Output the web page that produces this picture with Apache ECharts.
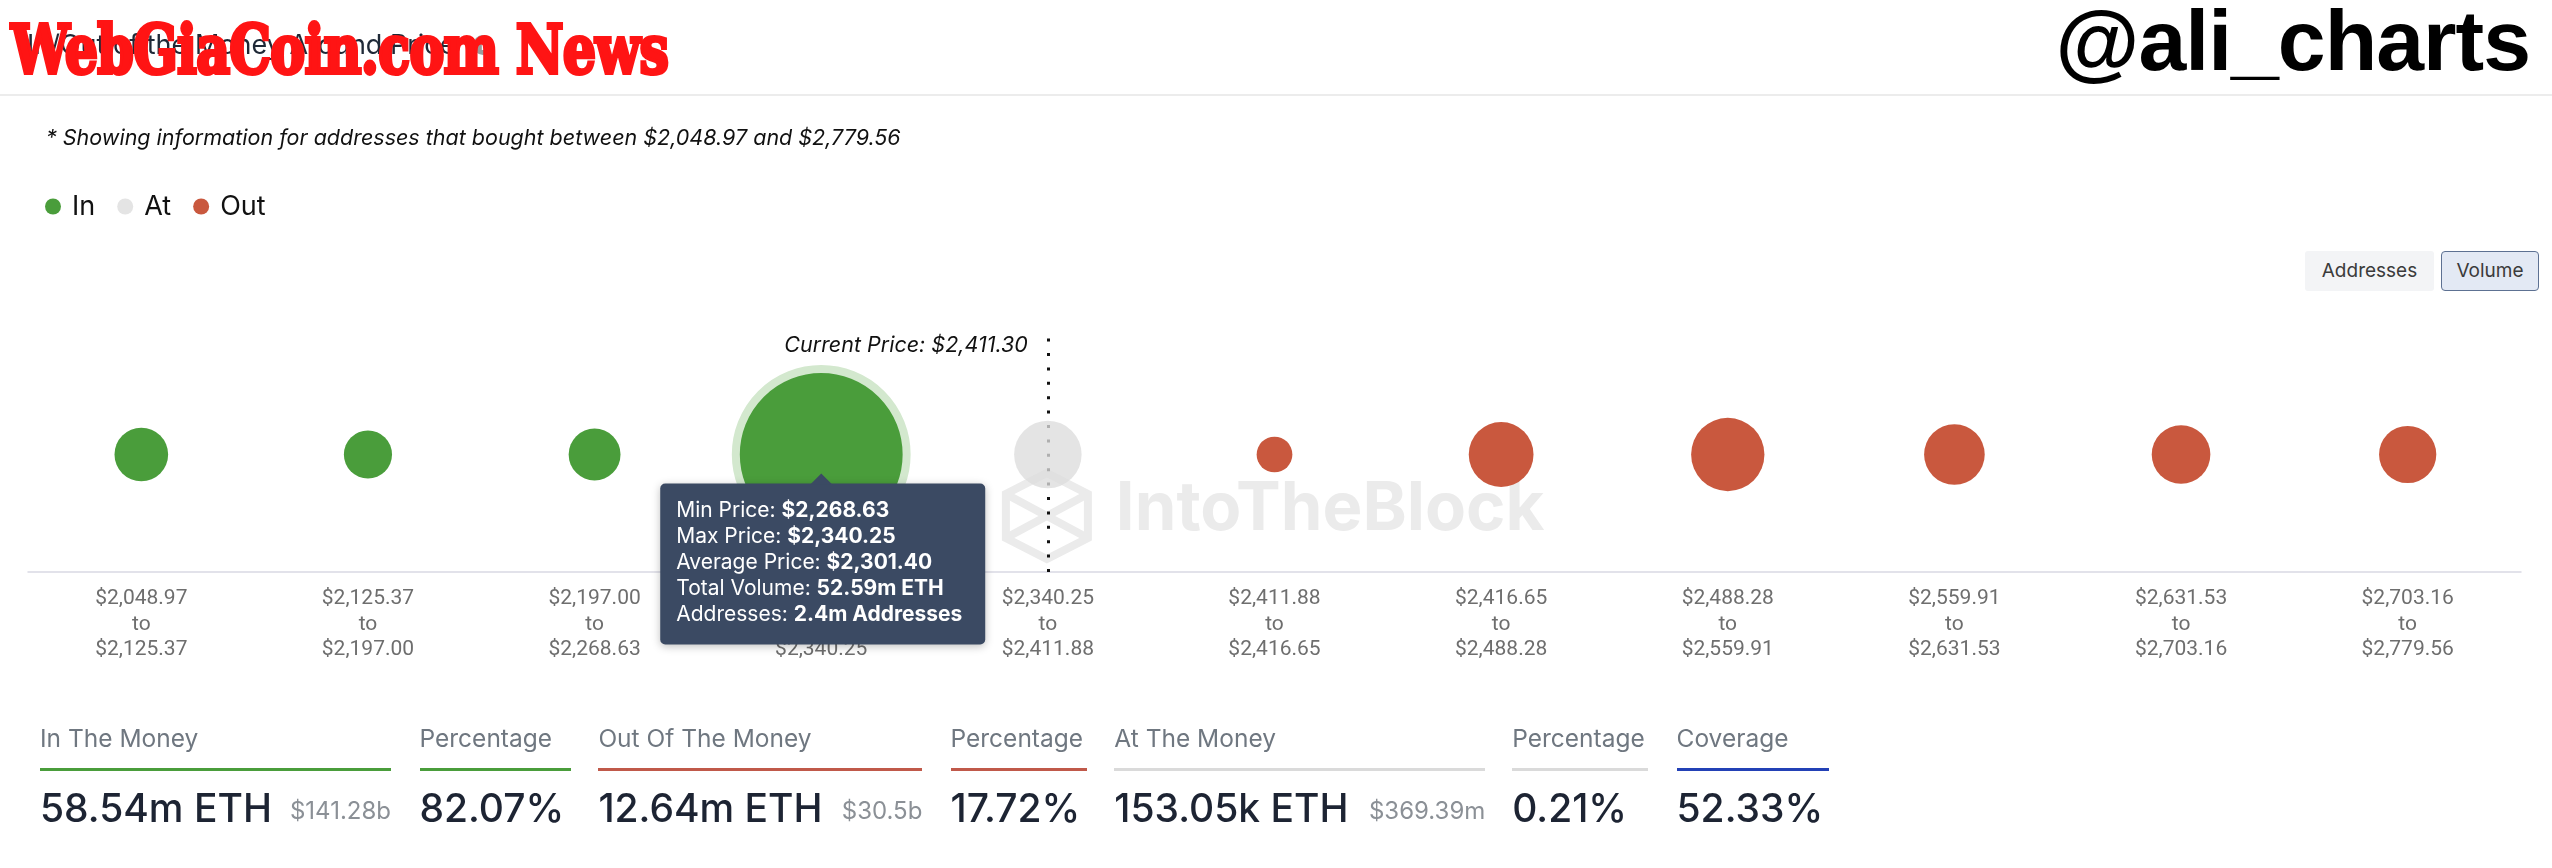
<!DOCTYPE html>
<html>
<head>
<meta charset="utf-8">
<script src="https://cdn.jsdelivr.net/npm/echarts@6/dist/echarts.min.js"></script>
<style>
  html, body { margin:0; padding:0; background:#fff; width:2552px; height:868px; overflow:hidden; font-family: Inter, 'Noto Sans', sans-serif; }
  #chart { position:absolute; left:0; top:0; width:2552px; height:868px; }
  .abs { position:absolute; white-space:nowrap; }
  #title { left:27px; top:29px; font-size:27px; line-height:32px; color:#1f2937; }
  #info { left:473px; top:35px; width:20px; height:20px; border-radius:50%; background:#9b9b9b; color:#fff; font-size:14px; font-weight:700; text-align:center; line-height:20px; }
  #brand { left:11px; top:15px; font-family:'DejaVu Serif', serif; font-weight:900; font-size:68px; line-height:68px; color:#ff1414; -webkit-text-stroke:4px #ff1414; transform:scaleX(0.77); transform-origin:0 0; letter-spacing:-1px; }
  #handle { right:22px; top:-3px; font-family:'Liberation Sans', Arial, sans-serif; font-weight:700; font-size:86px; line-height:86px; color:#000; letter-spacing:-1px; }
  #sep { left:0; top:94px; width:2552px; height:2px; background:#ececec; }
  #sub { left:46px; top:124px; font-size:21.5px; line-height:26px; font-style:italic; color:#111; }
  .btn { top:251px; height:40px; line-height:40px; font-size:19px; color:#3b3b3b; text-align:center; box-sizing:border-box; }
  #bAddr { left:2305px; width:129px; background:#f3f4f6; border-radius:3px; }
  #bVol { left:2441px; width:98px; background:#e3e9f4; border:1.5px solid #5d7192; border-radius:4px; line-height:37px; }
  .slab { top:721px; font-size:24.5px; line-height:34px; color:#6f7780; }
  .sline { top:768px; height:3px; }
  .sval { top:785px; font-size:39px; line-height:46px; color:#1d2433; font-weight:500; }
  .ssub { top:796px; font-size:24px; line-height:30px; color:#8b9096; text-align:right; }
</style>
</head>
<body>
<div id="chart"></div>
<div id="title" class="abs">In/Out of the Money Around Price</div>
<div id="info" class="abs">i</div>
<div id="brand" class="abs">WebGiaCoin.com News</div>
<div id="handle" class="abs">@ali_charts</div>
<div id="sep" class="abs"></div>
<div id="sub" class="abs">* Showing information for addresses that bought between $2,048.97 and $2,779.56</div>
<div id="bAddr" class="abs btn">Addresses</div>
<div id="bVol" class="abs btn">Volume</div>
<div id="stats"></div>
<script>
// ---- data ----
const rangeLow  = [2048.97, 2125.37, 2197.00, 2268.63, 2340.25, 2411.88, 2416.65, 2488.28, 2559.91, 2631.53, 2703.16];
const rangeHigh = [2125.37, 2197.00, 2268.63, 2340.25, 2411.88, 2416.65, 2488.28, 2559.91, 2631.53, 2703.16, 2779.56];
const inIndex   = [0, 1, 2, 3];
const inVolume  = [2.16, 1.84, 2.05, 52.59];          // m ETH
const atIndex   = [4];
const atVolume  = [0.153];                             // m ETH
const outIndex  = [5, 6, 7, 8, 9, 10];
const outVolume = [1.28, 2.99, 3.84, 2.65, 2.50, 2.40]; // m ETH
const currentPrice = 2411.30;
const focusIn = 3;               // highlighted bucket (index into inIndex)
const focusAvgPrice = 2301.40;
const focusAddresses = '2.4m';

const statLabels = ['In The Money', 'Percentage', 'Out Of The Money', 'Percentage', 'At The Money', 'Percentage', 'Coverage'];
const statValues = ['58.54m ETH', '82.07%', '12.64m ETH', '17.72%', '153.05k ETH', '0.21%', '52.33%'];
const statSubs   = ['$141.28b', '', '$30.5b', '', '$369.39m', '', ''];

// ---- styles ----
const GREEN = '#4a9d3b', RED = '#c9583e', GREY = '#dcdcdc';
const statLayout = [[40, 351, GREEN], [419.5, 151, GREEN], [598.4, 324, '#c0594a'], [950.5, 136, '#c0594a'],
                    [1114.3, 371, '#dadada'], [1512.2, 136, '#dadada'], [1676.5, 152, '#2341b6']];

const stats = document.getElementById('stats');
statLabels.forEach((lab, i) => {
  const [x, w, c] = statLayout[i];
  stats.insertAdjacentHTML('beforeend',
    `<div class="abs slab" style="left:${x}px">${lab}</div>` +
    `<div class="abs sline" style="left:${x}px;width:${w}px;background:${c}"></div>` +
    `<div class="abs sval" style="left:${x}px">${statValues[i]}</div>` +
    (statSubs[i] ? `<div class="abs ssub" style="left:${x}px;width:${w}px">${statSubs[i]}</div>` : ''));
});

const fmt = v => '$' + v.toLocaleString('en-US', {minimumFractionDigits: 2, maximumFractionDigits: 2});
const catLabels = rangeLow.map((lo, i) => fmt(lo) + '\nto\n' + fmt(rangeHigh[i]));
const sizeOf = v => 27.3 + 34.2 * Math.log(v);

const chart = echarts.init(document.getElementById('chart'), null, {renderer: 'canvas', width: 2552, height: 868});
chart.setOption({
  animation: false,
  legend: {
    data: ['In', 'At', 'Out'], left: 40, top: 188, icon: 'circle', itemWidth: 16, itemHeight: 16, itemGap: 22,
    selectedMode: false,
    textStyle: {fontSize: 27, color: '#111', fontFamily: 'Inter', padding: [0, 0, 0, 6]}
  },
  grid: {left: 28, right: 31, top: 337, bottom: 296},
  xAxis: {
    type: 'category', data: catLabels,
    axisTick: {show: false},
    axisLine: {lineStyle: {color: '#d9d9e4', width: 1.5}},
    axisLabel: {interval: 0, color: '#6e6e6e', fontSize: 21, lineHeight: 25.5, fontFamily: 'Roboto', margin: 14},
    splitLine: {show: false}
  },
  yAxis: {type: 'category', data: ['ETH'], show: false},
  series: [
    {
      name: 'In', type: 'scatter', z: 3,
      itemStyle: {color: GREEN, opacity: 1},
      data: inIndex.map((c, i) => i === focusIn
        ? {value: [c, 0, inVolume[i]], itemStyle: {borderColor: '#d3e8ce', borderWidth: 8}}
        : [c, 0, inVolume[i]]),
      symbolSize: (val, p) => sizeOf(val[2]) + (p.dataIndex === focusIn ? 8 : 0)
    },
    {
      name: 'At', type: 'scatter', z: 3,
      itemStyle: {color: GREY, opacity: 0.78},
      data: atIndex.map((c, i) => [c, 0, atVolume[i]]),
      symbolSize: 67.5,
      markLine: {
        silent: true, z: 1, symbol: ['none', 'none'], label: {show: false},
        lineStyle: {color: '#111', width: 3, type: [3, 11.4], dashOffset: 0},
        data: [{xAxis: atIndex[0]}]
      }
    },
    {
      name: 'Out', type: 'scatter', z: 3,
      itemStyle: {color: RED, opacity: 1},
      data: outIndex.map((c, i) => [c, 0, outVolume[i]]),
      symbolSize: val => sizeOf(val[2])
    }
  ]
});

// ---- annotations: watermark, current price label, tooltip ----
const p = chart.convertToPixel({seriesIndex: 0}, [inIndex[focusIn], 0]);
const lineX = chart.convertToPixel({seriesIndex: 1}, [atIndex[0], 0])[0];
const gridTop = 337;
const boxW = 325, boxH = 161, boxL = p[0] - 161, boxT = p[1] + 29;
const tipLines = [
  ['Min Price: ', fmt(rangeLow[inIndex[focusIn]])],
  ['Max Price: ', fmt(rangeHigh[inIndex[focusIn]])],
  ['Average Price: ', fmt(focusAvgPrice)],
  ['Total Volume: ', inVolume[focusIn] + 'm ETH'],
  ['Addresses: ', focusAddresses + ' Addresses']
];
const wmC = [lineX - 1, 516];
const hx = 41, hy = 22;
const WM = '#ebebeb';
chart.setOption({
  graphic: [
    {type: 'polygon', z: 0, silent: true, shape: {points: [[wmC[0], wmC[1] - 43], [wmC[0] + hx, wmC[1] - hy], [wmC[0] + hx, wmC[1] + hy], [wmC[0], wmC[1] + 43], [wmC[0] - hx, wmC[1] + hy], [wmC[0] - hx, wmC[1] - hy]]},
      style: {fill: 'none', stroke: WM, lineWidth: 8}},
    {type: 'polyline', z: 0, silent: true, shape: {points: [[wmC[0] - hx, wmC[1] - hy], [wmC[0] + hx, wmC[1] + hy]]}, style: {stroke: WM, lineWidth: 8}},
    {type: 'polyline', z: 0, silent: true, shape: {points: [[wmC[0] - hx, wmC[1] + hy], [wmC[0] + hx, wmC[1] - hy]]}, style: {stroke: WM, lineWidth: 8}},
    {type: 'text', z: 0, silent: true, x: lineX + 68, y: 510, style: {text: 'IntoTheBlock', fontSize: 67, fontWeight: 'bold', fontFamily: 'Inter', fill: WM, verticalAlign: 'middle', align: 'left'}},
    {type: 'text', z: 50, silent: true, x: lineX - 20, y: gridTop + 9,
      style: {text: 'Current Price: ' + fmt(currentPrice), fontSize: 21.5, fontStyle: 'italic', fontFamily: 'Inter', fill: '#111', align: 'right', verticalAlign: 'middle'}},
    {type: 'rect', z: 100, silent: true, shape: {x: boxL, y: boxT, width: boxW, height: boxH, r: 5},
      style: {fill: '#3b4a63', shadowBlur: 8, shadowColor: 'rgba(0,0,0,0.25)', shadowOffsetY: 2}},
    {type: 'polygon', z: 101, silent: true, shape: {points: [[p[0] - 11, boxT + 1], [p[0], boxT - 10], [p[0] + 11, boxT + 1]]}, style: {fill: '#3b4a63'}},
    {type: 'text', z: 102, silent: true, x: boxL + 16, y: boxT + 14, style: {
      text: tipLines.map(l => '{n|' + l[0] + '}{b|' + l[1] + '}').join('\n'),
      verticalAlign: 'top', align: 'left',
      rich: {
        n: {fontSize: 21, lineHeight: 26, fill: '#ffffff', fontFamily: 'Inter'},
        b: {fontSize: 21, lineHeight: 26, fill: '#ffffff', fontFamily: 'Inter', fontWeight: 'bold'}
      }
    }}
  ]
});
</script>
</body>
</html>
